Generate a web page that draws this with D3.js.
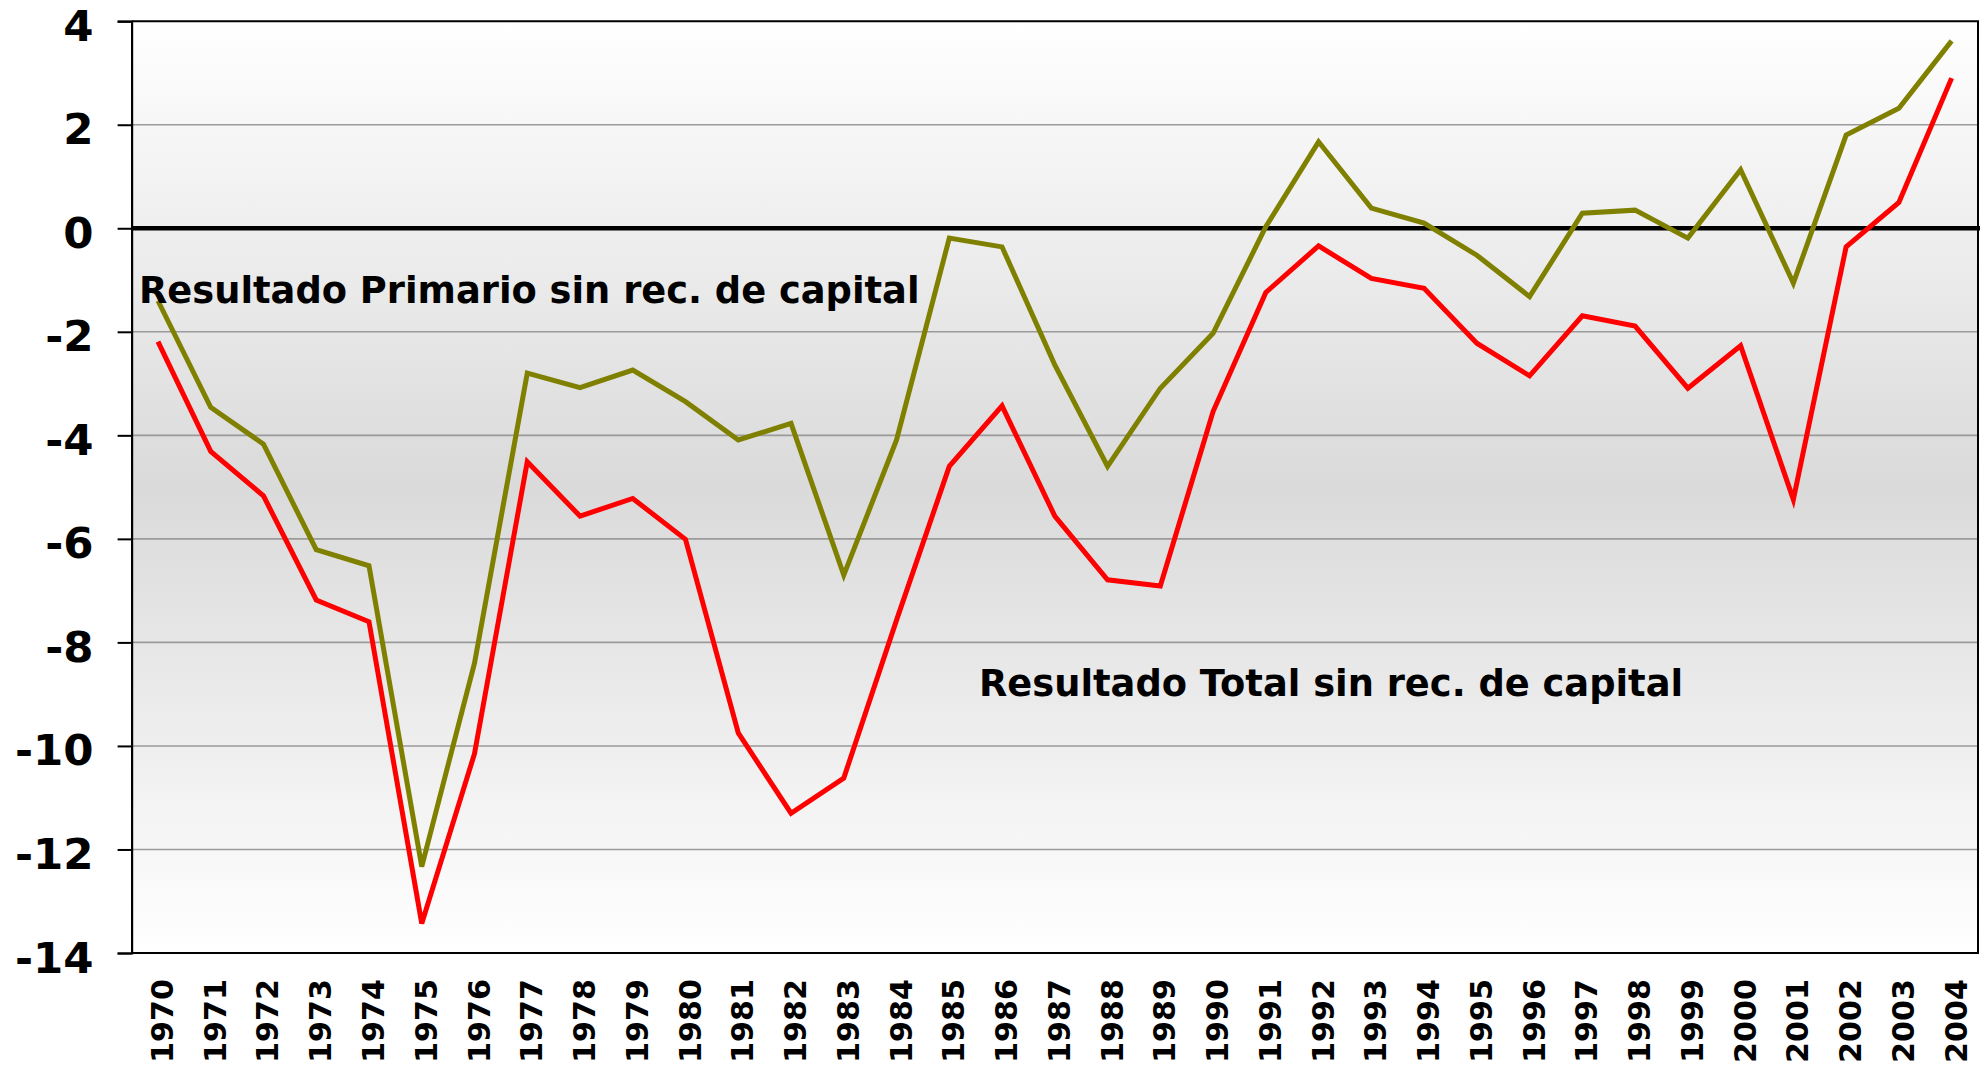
<!DOCTYPE html>
<html>
<head>
<meta charset="utf-8">
<script src="https://cdnjs.cloudflare.com/ajax/libs/d3/7.8.5/d3.min.js"></script>
<style>
  html, body { margin: 0; padding: 0; background: #ffffff; }
  svg { display: block; }
  text { font-family: "DejaVu Sans", Verdana, sans-serif; font-weight: bold; fill: #000; }
</style>
</head>
<body>
<div id="chart"></div>
<script>
// ---- data ----
const years = ["1970","1971","1972","1973","1974","1975","1976","1977","1978","1979",
               "1980","1981","1982","1983","1984","1985","1986","1987","1988","1989",
               "1990","1991","1992","1993","1994","1995","1996","1997","1998","1999",
               "2000","2001","2002","2003","2004"];
const primario = [-1.4, -3.46, -4.17, -6.21, -6.52, -12.33, -8.40, -2.80, -3.08, -2.74,
                  -3.35, -4.09, -3.77, -6.70, -4.09, -0.19, -0.36, -2.64, -4.60, -3.09,
                  -2.03, 0.03, 1.67, 0.39, 0.10, -0.52, -1.32, 0.29, 0.35, -0.19,
                  1.13, -1.06, 1.80, 2.32, 3.62];
const total = [-2.19, -4.31, -5.17, -7.18, -7.60, -13.43, -10.15, -4.51, -5.56, -5.22,
               -6.01, -9.75, -11.30, -10.62, -7.57, -4.60, -3.43, -5.56, -6.79, -6.91,
               -3.54, -1.24, -0.34, -0.97, -1.16, -2.22, -2.85, -1.69, -1.89, -3.09,
               -2.27, -5.24, -0.36, 0.50, 2.90];
const yTicks = [4, 2, 0, -2, -4, -6, -8, -10, -12, -14];
const labelPrimario = "Resultado Primario sin rec. de capital";
const labelTotal = "Resultado Total sin rec. de capital";

// ---- layout ----
const W = 1984, H = 1067;
const plot = { left: 131.6, right: 1978, top: 21.2, bottom: 953 };

const svg = d3.select("#chart").append("svg")
  .attr("width", W).attr("height", H);

const x = d3.scalePoint().domain(years).range([plot.left, plot.right]).padding(0.5);
const y = d3.scaleLinear().domain([-14, 4]).range([plot.bottom, plot.top]);

// background gradient
const defs = svg.append("defs");
const grad = defs.append("linearGradient").attr("id", "bg")
  .attr("x1", 0).attr("y1", 0).attr("x2", 0).attr("y2", 1);
grad.append("stop").attr("offset", "0%").attr("stop-color", "#ffffff");
grad.append("stop").attr("offset", "50%").attr("stop-color", "#dadada");
grad.append("stop").attr("offset", "100%").attr("stop-color", "#ffffff");

svg.append("rect")
  .attr("x", plot.left).attr("y", plot.top)
  .attr("width", plot.right - plot.left).attr("height", plot.bottom - plot.top)
  .attr("fill", "url(#bg)");

// gridlines
svg.append("g")
  .selectAll("line")
  .data(yTicks.filter(d => d !== 0 && d !== 4 && d !== -14))
  .join("line")
  .attr("x1", plot.left).attr("x2", plot.right)
  .attr("y1", d => y(d)).attr("y2", d => y(d))
  .attr("stroke", "#9a9a9a").attr("stroke-width", 1.6);

// plot border (top, right, bottom)
svg.append("path")
  .attr("d", `M${plot.left},${y(4)}H${plot.right}V${y(-14)}H${plot.left}`)
  .attr("fill", "none").attr("stroke", "#000").attr("stroke-width", 2);

// y axis
const yAxis = d3.axisLeft(y).tickValues(yTicks).tickSize(14).tickPadding(0)
  .tickFormat(d => String(d));
const gy = svg.append("g").attr("transform", `translate(${plot.left},0)`).call(yAxis);
gy.select(".domain").attr("stroke", "#000").attr("stroke-width", 2.2);
gy.selectAll(".tick line").attr("stroke", "#000").attr("stroke-width", 2);
gy.selectAll(".tick text")
  .attr("x", -38).attr("dy", null).attr("y", 19)
  .attr("text-anchor", "end")
  .style("font-size", "43.5px")
  .style("font-family", "'DejaVu Sans', Verdana, sans-serif")
  .style("font-weight", "bold");

// x axis
const xAxis = d3.axisBottom(x).tickSize(0).tickPadding(0);
const gx = svg.append("g").attr("transform", `translate(0,${plot.bottom})`).call(xAxis);
gx.select(".domain").remove();
gx.selectAll(".tick text")
  .attr("transform", "rotate(-90)")
  .attr("x", -26).attr("y", 14.5).attr("dy", null)
  .attr("text-anchor", "end")
  .style("font-size", "30.2px")
  .style("font-family", "'DejaVu Sans', Verdana, sans-serif")
  .style("font-weight", "bold");

// zero line
svg.append("line")
  .attr("x1", plot.left).attr("x2", plot.right + 2)
  .attr("y1", y(0)).attr("y2", y(0))
  .attr("stroke", "#000").attr("stroke-width", 4.5);

// series lines
const line = d3.line().x((d, i) => x(years[i])).y(d => y(d));
svg.append("path").datum(primario)
  .attr("d", line).attr("fill", "none")
  .attr("stroke", "#808000").attr("stroke-width", 5);
svg.append("path").datum(total)
  .attr("d", line).attr("fill", "none")
  .attr("stroke", "#ff0000").attr("stroke-width", 5);

// annotations
svg.append("text").attr("x", 139).attr("y", 302.7)
  .style("font-size", "36.8px").text(labelPrimario);
svg.append("text").attr("x", 979).attr("y", 695.7)
  .style("font-size", "36.8px").text(labelTotal);
</script>
</body>
</html>
